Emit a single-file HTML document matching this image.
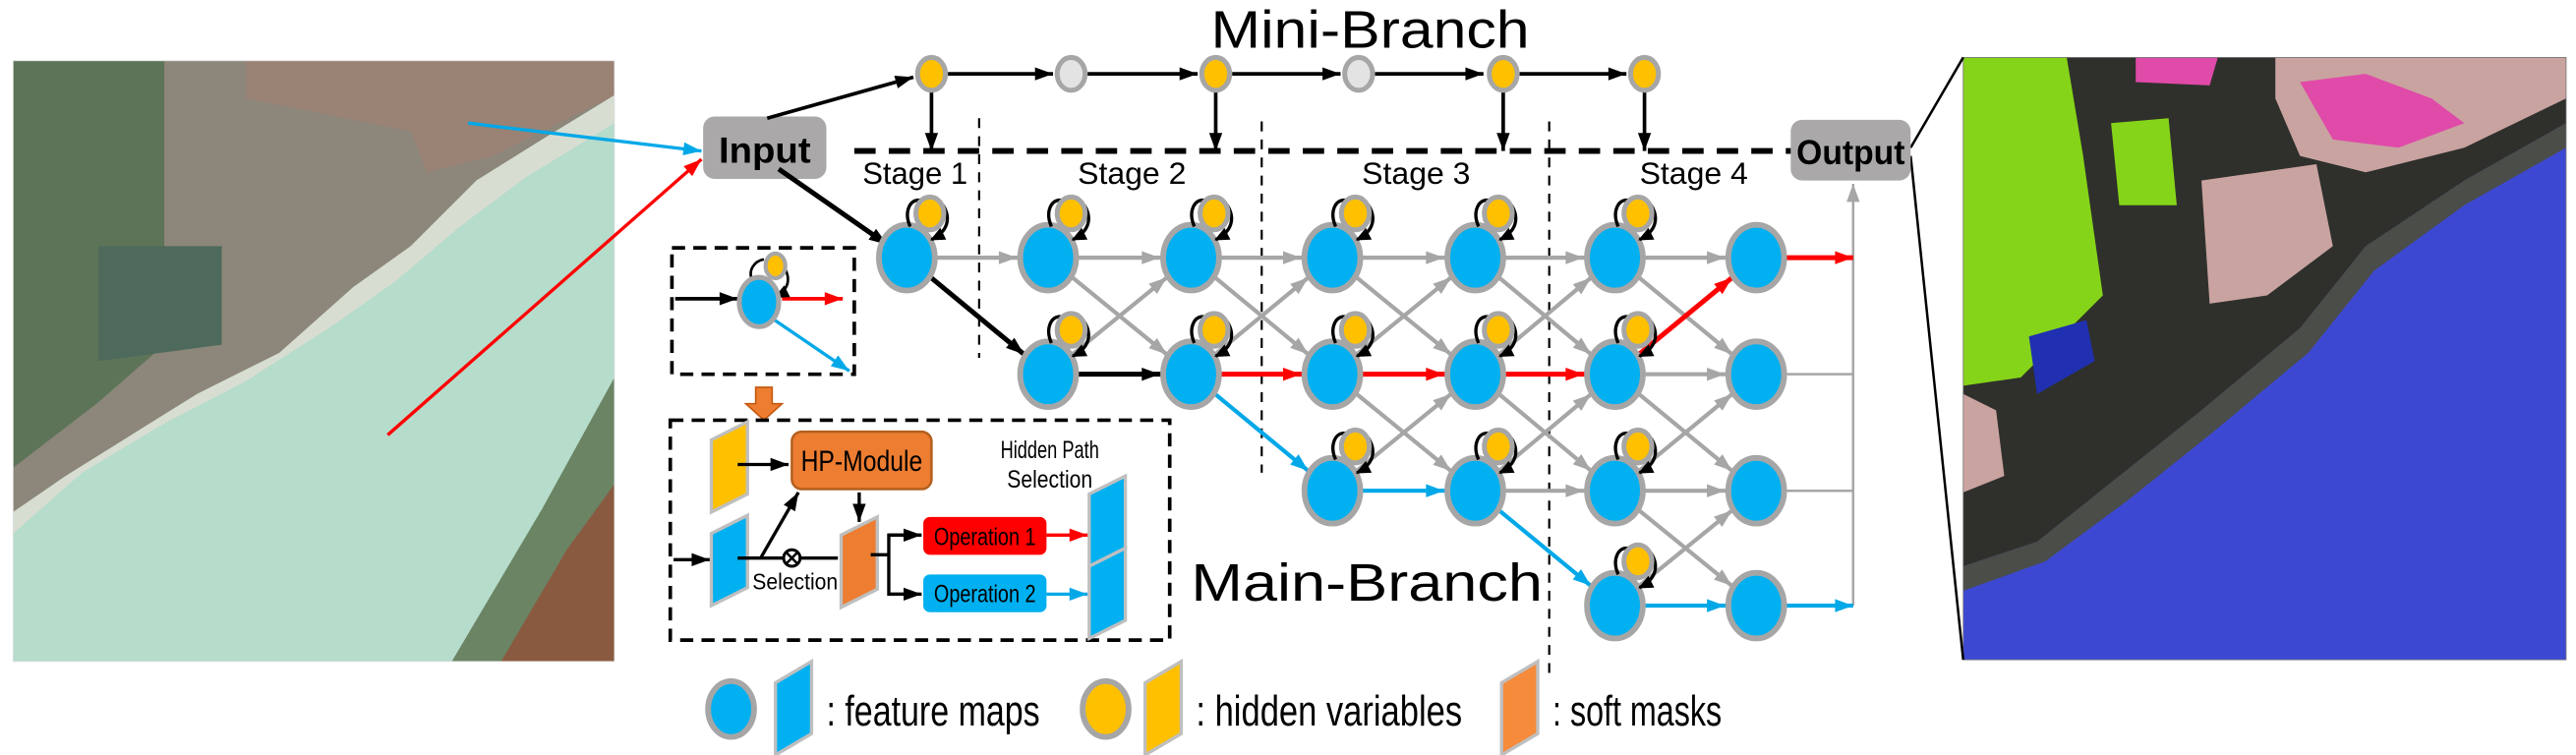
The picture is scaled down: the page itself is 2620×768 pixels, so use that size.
<!DOCTYPE html>
<html><head><meta charset="utf-8"><style>html,body{margin:0;padding:0;background:#fff}svg{display:block}</style></head>
<body>
<svg width="2620" height="768" viewBox="0 0 1568 460" preserveAspectRatio="none" xmlns="http://www.w3.org/2000/svg" font-family="Liberation Sans, sans-serif">
<defs>
<marker id="mg" markerUnits="userSpaceOnUse" markerWidth="12" markerHeight="10" refX="30" refY="4" orient="auto" overflow="visible"><path d="M0,0 L11,4 L0,8z" fill="#a6a6a6"/></marker>
<marker id="mk" markerUnits="userSpaceOnUse" markerWidth="12" markerHeight="10" refX="30" refY="4" orient="auto" overflow="visible"><path d="M0,0 L11,4 L0,8z" fill="#000"/></marker>
<marker id="mr" markerUnits="userSpaceOnUse" markerWidth="12" markerHeight="10" refX="30" refY="4" orient="auto" overflow="visible"><path d="M0,0 L11,4 L0,8z" fill="#f00"/></marker>
<marker id="mb" markerUnits="userSpaceOnUse" markerWidth="12" markerHeight="10" refX="30" refY="4" orient="auto" overflow="visible"><path d="M0,0 L11,4 L0,8z" fill="#00a8e8"/></marker>
<marker id="ek" markerUnits="userSpaceOnUse" markerWidth="12" markerHeight="10" refX="11" refY="4" orient="auto" overflow="visible"><path d="M0,0 L11,4 L0,8z" fill="#000"/></marker>
<marker id="ek2" markerUnits="userSpaceOnUse" markerWidth="12" markerHeight="10" refX="8" refY="4" orient="auto" overflow="visible"><path d="M0,0 L9,4 L0,8z" fill="#000"/></marker>
<marker id="er" markerUnits="userSpaceOnUse" markerWidth="12" markerHeight="10" refX="11" refY="4" orient="auto" overflow="visible"><path d="M0,0 L11,4 L0,8z" fill="#f00"/></marker>
<marker id="eb" markerUnits="userSpaceOnUse" markerWidth="12" markerHeight="10" refX="11" refY="4" orient="auto" overflow="visible"><path d="M0,0 L11,4 L0,8z" fill="#00a8e8"/></marker>
<marker id="eg" markerUnits="userSpaceOnUse" markerWidth="12" markerHeight="10" refX="11" refY="4" orient="auto" overflow="visible"><path d="M0,0 L11,4 L0,8z" fill="#a6a6a6"/></marker>
</defs>

<!-- Left satellite image -->
<rect x="8" y="37" width="366" height="366" fill="#b6dccb"/>
<polygon points="8,37 374,37 374,58 330,85 290,110 250,150 215,175 170,215 120,240 80,265 40,290 8,312" fill="#8c877a"/>
<polygon points="8,37 100,37 100,210 60,245 8,285" fill="#5d7458"/>
<polygon points="150,37 374,37 374,58 300,95 260,105 250,80 150,60" fill="#9a8274"/>
<polygon points="60,150 135,150 135,210 60,220" fill="#4e6a5c"/>
<polygon points="8,312 40,290 80,265 120,240 170,215 215,175 250,150 290,110 330,85 374,58 374,75 320,108 280,138 240,172 200,200 150,232 100,258 50,288 8,325" fill="#d8ddd2"/>
<polygon points="374,230 374,403 275,403 330,310" fill="#6a8464"/>
<polygon points="374,295 374,403 305,403 345,335" fill="#8a5a40"/>
<rect x="8" y="37" width="366" height="366" fill="none" stroke="#ddd" stroke-width="0.5"/>

<!-- Right segmented image -->
<rect x="1195" y="35" width="367" height="367" fill="#3d48d2"/>
<polygon points="1195,35 1562,35 1562,75 1500,110 1440,150 1400,200 1340,250 1290,290 1240,330 1195,345" fill="#2f302c"/>
<polygon points="1195,35 1258,35 1268,95 1280,180 1250,210 1230,230 1195,235" fill="#86d419"/>
<polygon points="1285,75 1320,72 1325,125 1290,125" fill="#86d419"/>
<polygon points="1300,35 1350,35 1345,52 1300,50" fill="#e04aa8"/>
<polygon points="1385,35 1562,35 1562,60 1500,90 1440,105 1400,95 1385,60" fill="#c9a3a0"/>
<polygon points="1400,50 1440,45 1480,60 1500,75 1460,90 1420,85" fill="#e04aa8"/>
<polygon points="1340,110 1410,100 1420,150 1380,180 1345,185" fill="#c9a3a0"/>
<polygon points="1195,240 1215,250 1220,290 1195,300" fill="#c9a3a0"/>
<polygon points="1235,205 1270,195 1275,220 1240,240" fill="#2030b0"/>
<polygon points="1562,75 1562,90 1500,125 1445,165 1405,215 1345,265 1295,305 1245,342 1195,360 1195,345 1240,330 1290,290 1340,250 1400,200 1440,150 1500,110" fill="#4a4d48"/>
<rect x="1195" y="35" width="367" height="367" fill="none" stroke="#777" stroke-width="0.5"/>
<line x1="1163" y1="90" x2="1195" y2="35" stroke="#000" stroke-width="1.5"/>
<line x1="1163" y1="95" x2="1195" y2="402" stroke="#000" stroke-width="1.5"/>

<!-- arrows from image -->
<line x1="285" y1="75" x2="427" y2="92" stroke="#00a8e8" stroke-width="2" marker-end="url(#eb)"/>
<line x1="236" y1="265" x2="427" y2="97" stroke="#f00" stroke-width="2" marker-end="url(#er)"/>

<!-- Titles -->
<text x="834" y="29" font-size="32" text-anchor="middle" textLength="194" lengthAdjust="spacingAndGlyphs">Mini-Branch</text>
<text x="832" y="366" font-size="32" text-anchor="middle" textLength="214" lengthAdjust="spacingAndGlyphs">Main-Branch</text>

<!-- Input / Output -->
<rect x="428" y="71" width="75" height="38" rx="7" fill="#aaa8a8"/>
<text x="465.5" y="99" font-size="22" font-weight="bold" text-anchor="middle" textLength="56" lengthAdjust="spacingAndGlyphs">Input</text>
<rect x="1090" y="73" width="73" height="37" rx="7" fill="#aaa8a8"/>
<text x="1126.5" y="100" font-size="21" font-weight="bold" text-anchor="middle" textLength="66" lengthAdjust="spacingAndGlyphs">Output</text>

<!-- Mini branch -->
<g stroke="#000" stroke-width="2.2" fill="none">
<line x1="467" y1="72" x2="556" y2="47" marker-end="url(#ek)"/>
<line x1="577" y1="45" x2="641" y2="45" marker-end="url(#ek)"/>
<line x1="662" y1="45" x2="729" y2="45" marker-end="url(#ek)"/>
<line x1="750" y1="45" x2="816" y2="45" marker-end="url(#ek)"/>
<line x1="837" y1="45" x2="903" y2="45" marker-end="url(#ek)"/>
<line x1="925" y1="45" x2="990" y2="45" marker-end="url(#ek)"/>
<line x1="567" y1="56" x2="567" y2="92" marker-end="url(#ek)"/>
<line x1="740" y1="56" x2="740" y2="92" marker-end="url(#ek)"/>
<line x1="915" y1="56" x2="915" y2="92" marker-end="url(#ek)"/>
<line x1="1001" y1="56" x2="1001" y2="92" marker-end="url(#ek)"/>
</g>
<g stroke="#a6a6a6" stroke-width="3">
<ellipse cx="567" cy="45" rx="8.5" ry="10" fill="#ffc000"/>
<ellipse cx="652" cy="45" rx="8.5" ry="10" fill="#e3e3e3"/>
<ellipse cx="740" cy="45" rx="8.5" ry="10" fill="#ffc000"/>
<ellipse cx="827" cy="45" rx="8.5" ry="10" fill="#e3e3e3"/>
<ellipse cx="915" cy="45" rx="8.5" ry="10" fill="#ffc000"/>
<ellipse cx="1001" cy="45" rx="8.5" ry="10" fill="#ffc000"/>
</g>
<line x1="520" y1="92" x2="1090" y2="92" stroke="#000" stroke-width="3.5" stroke-dasharray="13,8"/>
<g stroke="#000" stroke-width="1.3" stroke-dasharray="6,5">
<line x1="596" y1="72" x2="596" y2="218"/>
<line x1="768" y1="74" x2="768" y2="288"/>
<line x1="943" y1="74" x2="943" y2="410"/>
</g>
<g font-size="19" text-anchor="middle">
<text x="557" y="112" textLength="64" lengthAdjust="spacingAndGlyphs">Stage 1</text>
<text x="689" y="112" textLength="66" lengthAdjust="spacingAndGlyphs">Stage 2</text>
<text x="862" y="112" textLength="66" lengthAdjust="spacingAndGlyphs">Stage 3</text>
<text x="1031" y="112" textLength="66" lengthAdjust="spacingAndGlyphs">Stage 4</text>
</g>

<!-- main branch edges -->
<g stroke="#a6a6a6" stroke-width="2.5" marker-end="url(#mg)">
<line x1="552" y1="157" x2="638" y2="157"/>
<line x1="638" y1="157" x2="725" y2="157"/><line x1="638" y1="157" x2="725" y2="228"/><line x1="638" y1="228" x2="725" y2="157"/>
<line x1="725" y1="157" x2="811" y2="157"/><line x1="725" y1="157" x2="811" y2="228"/><line x1="725" y1="228" x2="811" y2="157"/>
<line x1="811" y1="157" x2="898" y2="157"/><line x1="811" y1="157" x2="898" y2="228"/><line x1="811" y1="228" x2="898" y2="157"/><line x1="811" y1="228" x2="898" y2="299"/><line x1="811" y1="299" x2="898" y2="228"/>
<line x1="898" y1="157" x2="983" y2="157"/><line x1="898" y1="157" x2="983" y2="228"/><line x1="898" y1="228" x2="983" y2="157"/><line x1="898" y1="228" x2="983" y2="299"/><line x1="898" y1="299" x2="983" y2="228"/><line x1="898" y1="299" x2="983" y2="299"/>
<line x1="983" y1="157" x2="1069" y2="157"/><line x1="983" y1="157" x2="1069" y2="228"/><line x1="983" y1="228" x2="1069" y2="228"/><line x1="983" y1="228" x2="1069" y2="299"/><line x1="983" y1="299" x2="1069" y2="228"/><line x1="983" y1="299" x2="1069" y2="299"/><line x1="983" y1="299" x2="1069" y2="369"/><line x1="983" y1="369" x2="1069" y2="299"/>
</g>
<g stroke="#a6a6a6" stroke-width="1.5">
<line x1="1069" y1="228" x2="1128" y2="228"/><line x1="1069" y1="299" x2="1128" y2="299"/>
<line x1="1128" y1="369" x2="1128" y2="112" marker-end="url(#eg)"/>
</g>
<g stroke="#000" stroke-width="3" marker-end="url(#mk)">
<line x1="474" y1="103" x2="540" y2="149" marker-end="url(#ek)"/>
<line x1="552" y1="157" x2="638" y2="228"/>
<line x1="638" y1="228" x2="725" y2="228"/>
</g>
<g stroke="#f00" stroke-width="3" marker-end="url(#mr)">
<line x1="725" y1="228" x2="811" y2="228"/><line x1="811" y1="228" x2="898" y2="228"/><line x1="898" y1="228" x2="983" y2="228"/><line x1="983" y1="228" x2="1069" y2="157"/>
<line x1="1069" y1="157" x2="1128" y2="157" marker-end="url(#er)"/>
</g>
<g stroke="#00a8e8" stroke-width="2.5" marker-end="url(#mb)">
<line x1="725" y1="228" x2="811" y2="299"/><line x1="811" y1="299" x2="898" y2="299"/><line x1="898" y1="299" x2="983" y2="369"/><line x1="983" y1="369" x2="1069" y2="369"/>
<line x1="1069" y1="369" x2="1128" y2="369" marker-end="url(#eb)"/>
</g>

<!-- main nodes -->
<g fill="#00b0f0" stroke="#a6a6a6" stroke-width="3.5">
<ellipse cx="552" cy="157" rx="17" ry="20"/>
<ellipse cx="638" cy="157" rx="17" ry="20"/><ellipse cx="638" cy="228" rx="17" ry="20"/>
<ellipse cx="725" cy="157" rx="17" ry="20"/><ellipse cx="725" cy="228" rx="17" ry="20"/>
<ellipse cx="811" cy="157" rx="17" ry="20"/><ellipse cx="811" cy="228" rx="17" ry="20"/><ellipse cx="811" cy="299" rx="17" ry="20"/>
<ellipse cx="898" cy="157" rx="17" ry="20"/><ellipse cx="898" cy="228" rx="17" ry="20"/><ellipse cx="898" cy="299" rx="17" ry="20"/>
<ellipse cx="983" cy="157" rx="17" ry="20"/><ellipse cx="983" cy="228" rx="17" ry="20"/><ellipse cx="983" cy="299" rx="17" ry="20"/><ellipse cx="983" cy="369" rx="17" ry="20"/>
<ellipse cx="1069" cy="157" rx="17" ry="20"/><ellipse cx="1069" cy="228" rx="17" ry="20"/><ellipse cx="1069" cy="299" rx="17" ry="20"/><ellipse cx="1069" cy="369" rx="17" ry="20"/>
</g>
<!-- hidden nodes with loops -->
<defs>
<g id="hid">
<path d="M2,-19 C-2,-28 2,-36 8,-35" stroke="#000" stroke-width="2" fill="none"/>
<path d="M22,-32 C27,-24 25,-16 15,-11" stroke="#000" stroke-width="2" fill="none" marker-end="url(#ek2)"/>
<ellipse cx="14" cy="-27" rx="8.5" ry="10" fill="#ffc000" stroke="#a6a6a6" stroke-width="3"/>
</g>
</defs>
<use href="#hid" x="552" y="157"/>
<use href="#hid" x="638" y="157"/><use href="#hid" x="638" y="228"/>
<use href="#hid" x="725" y="157"/><use href="#hid" x="725" y="228"/>
<use href="#hid" x="811" y="157"/><use href="#hid" x="811" y="228"/><use href="#hid" x="811" y="299"/>
<use href="#hid" x="898" y="157"/><use href="#hid" x="898" y="228"/><use href="#hid" x="898" y="299"/>
<use href="#hid" x="983" y="157"/><use href="#hid" x="983" y="228"/><use href="#hid" x="983" y="299"/><use href="#hid" x="983" y="369"/>

<!-- small dashed box -->
<rect x="409" y="151" width="111" height="77" fill="none" stroke="#000" stroke-width="2.2" stroke-dasharray="8,5"/>
<line x1="411" y1="182" x2="449" y2="182" stroke="#000" stroke-width="2.2" marker-end="url(#ek)"/>
<line x1="476" y1="182" x2="513" y2="182" stroke="#f00" stroke-width="2.2" marker-end="url(#er)"/>
<line x1="470" y1="194" x2="517" y2="226" stroke="#00a8e8" stroke-width="2" marker-end="url(#eb)"/>
<path d="M458,171 C455,165 459,159 465,158" stroke="#000" stroke-width="1.6" fill="none"/>
<path d="M478,164 C482,172 478,178 472,181" stroke="#000" stroke-width="1.6" fill="none" marker-end="url(#ek2)"/>
<ellipse cx="462" cy="184" rx="12" ry="15" fill="#00b0f0" stroke="#a6a6a6" stroke-width="3"/>
<ellipse cx="472" cy="162" rx="6" ry="7.5" fill="#ffc000" stroke="#a6a6a6" stroke-width="2.5"/>

<!-- orange down arrow -->
<polygon points="460,236 470,236 470,246 476,246 465,256 454,246 460,246" fill="#ed7d31" stroke="#c55a11" stroke-width="1"/>

<!-- large dashed box -->
<rect x="408" y="256" width="304" height="134" fill="none" stroke="#000" stroke-width="2.2" stroke-dasharray="8,5"/>
<g stroke="#bfbfbf" stroke-width="2">
<polygon points="433,268 455,257 455,301 433,312" fill="#ffc000"/>
<polygon points="433,325 455,314 455,358 433,369" fill="#00b0f0"/>
<polygon points="512,326 534,315 534,359 512,370" fill="#ed7d31"/>
<polygon points="663,301 685,290 685,334 663,345" fill="#00b0f0"/>
<polygon points="663,345 685,334 685,378 663,389" fill="#00b0f0"/>
</g>
<rect x="482" y="263" width="85" height="35" rx="6" fill="#ed7d31" stroke="#b3601f" stroke-width="1.5"/>
<text x="524.5" y="287" font-size="18" text-anchor="middle" textLength="74" lengthAdjust="spacingAndGlyphs">HP-Module</text>
<text x="639" y="279" font-size="15" text-anchor="middle" textLength="60" lengthAdjust="spacingAndGlyphs">Hidden Path</text>
<text x="639" y="297" font-size="15" text-anchor="middle" textLength="52" lengthAdjust="spacingAndGlyphs">Selection</text>
<rect x="562" y="315" width="75" height="23" rx="4" fill="#f00"/>
<text x="599.5" y="332" font-size="15" text-anchor="middle" textLength="62" lengthAdjust="spacingAndGlyphs">Operation 1</text>
<rect x="562" y="350" width="75" height="23" rx="4" fill="#00b0f0"/>
<text x="599.5" y="367" font-size="15" text-anchor="middle" textLength="62" lengthAdjust="spacingAndGlyphs">Operation 2</text>
<g stroke="#000" stroke-width="2" fill="none">
<line x1="449" y1="283" x2="480" y2="283" marker-end="url(#ek)"/>
<line x1="410" y1="341" x2="432" y2="341" marker-end="url(#ek)"/>
<line x1="449" y1="340" x2="477" y2="340"/>
<line x1="487" y1="340" x2="510" y2="340"/>
<line x1="463" y1="340" x2="486" y2="300" marker-end="url(#ek)"/>
<line x1="523" y1="300" x2="523" y2="318" marker-end="url(#ek)"/>
<polyline points="530,338 541,338"/>
<polyline points="560,326 541,326 541,362 560,362"/>
<line x1="541" y1="326" x2="561" y2="326" marker-end="url(#ek)"/>
<line x1="541" y1="362" x2="561" y2="362" marker-end="url(#ek)"/>
<circle cx="482" cy="340" r="5" stroke-width="1.8"/>
<line x1="478.5" y1="336.5" x2="485.5" y2="343.5" stroke-width="1.5"/>
<line x1="485.5" y1="336.5" x2="478.5" y2="343.5" stroke-width="1.5"/>
</g>
<line x1="637" y1="326" x2="662" y2="326" stroke="#f00" stroke-width="2" marker-end="url(#er)"/>
<line x1="637" y1="362" x2="662" y2="362" stroke="#00a8e8" stroke-width="2" marker-end="url(#eb)"/>
<text x="484" y="359" font-size="14" text-anchor="middle" textLength="52" lengthAdjust="spacingAndGlyphs">Selection</text>

<!-- legend -->
<ellipse cx="445" cy="432" rx="14" ry="17" fill="#00b0f0" stroke="#a6a6a6" stroke-width="3.5"/>
<polygon points="472,416 494,403 494,447 472,460" fill="#00b0f0" stroke="#bfbfbf" stroke-width="2"/>
<text x="503" y="442" font-size="26" textLength="130" lengthAdjust="spacingAndGlyphs">: feature maps</text>
<ellipse cx="673" cy="432" rx="14" ry="17" fill="#ffc000" stroke="#a6a6a6" stroke-width="3.5"/>
<polygon points="697,416 719,403 719,447 697,460" fill="#ffc000" stroke="#bfbfbf" stroke-width="2"/>
<text x="728" y="442" font-size="26" textLength="162" lengthAdjust="spacingAndGlyphs">: hidden variables</text>
<polygon points="914,416 936,403 936,447 914,460" fill="#f58b3b" stroke="#bfbfbf" stroke-width="2"/>
<text x="945" y="442" font-size="26" textLength="103" lengthAdjust="spacingAndGlyphs">: soft masks</text>
</svg>
</body></html>
